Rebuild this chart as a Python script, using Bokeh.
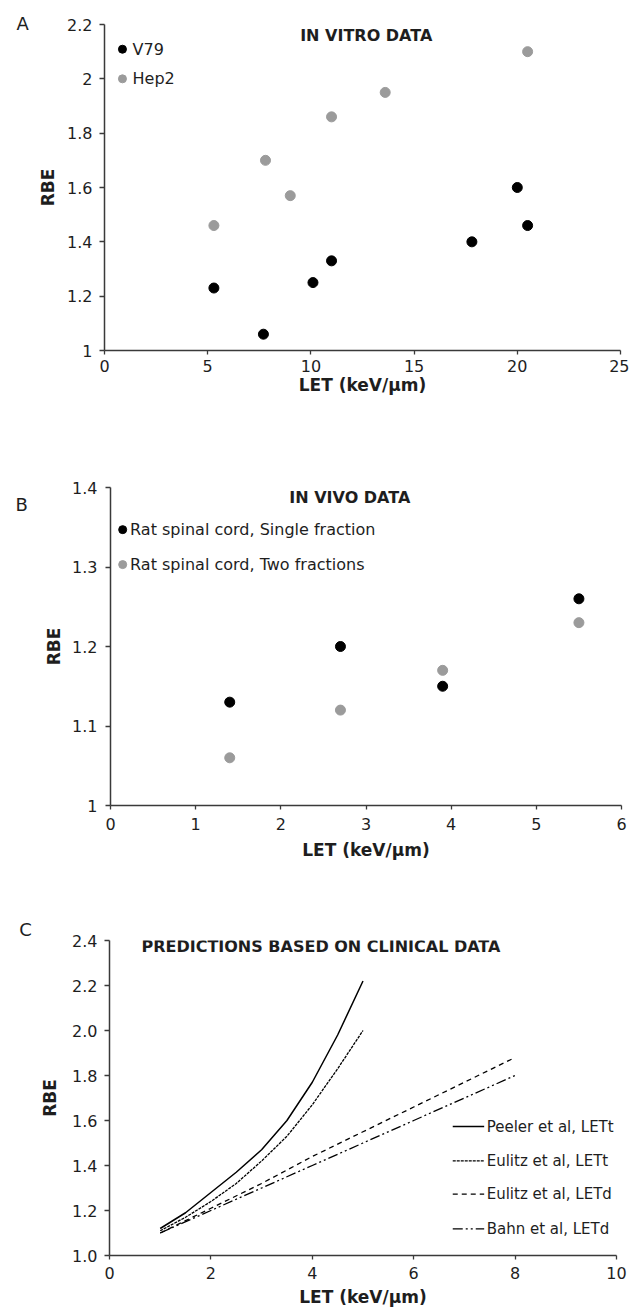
from bokeh.plotting import figure
from bokeh.models import Range1d, FixedTicker, NumeralTickFormatter, Div
from bokeh.layouts import column, row
from bokeh.core.properties import value
from bokeh.embed import file_html
from bokeh.resources import INLINE

FONT = "DejaVu Sans"

# ---------------- data ----------------
# Panel A: in vitro
v79_let = [5.3, 7.7, 10.1, 11.0, 17.8, 20.0, 20.5]
v79_rbe = [1.23, 1.06, 1.25, 1.33, 1.40, 1.60, 1.46]
hep2_let = [5.3, 7.8, 9.0, 11.0, 13.6, 20.5]
hep2_rbe = [1.46, 1.70, 1.57, 1.86, 1.95, 2.10]

# Panel B: in vivo
single_let = [1.4, 2.7, 3.9, 5.5]
single_rbe = [1.13, 1.20, 1.15, 1.26]
two_let = [1.4, 2.7, 3.9, 5.5]
two_rbe = [1.06, 1.12, 1.17, 1.23]

# Panel C: clinical predictions
peeler_let = [1.0, 1.5, 2.0, 2.5, 3.0, 3.5, 4.0, 4.5, 5.0]
peeler_rbe = [1.12, 1.19, 1.28, 1.37, 1.47, 1.60, 1.77, 1.98, 2.22]
eulitz_t_let = [1.0, 1.5, 2.0, 2.5, 3.0, 3.5, 4.0, 4.5, 5.0]
eulitz_t_rbe = [1.11, 1.17, 1.24, 1.32, 1.42, 1.53, 1.67, 1.83, 2.00]
eulitz_d_let = [1, 2, 3, 4, 5, 6, 7, 8]
eulitz_d_rbe = [1.10, 1.21, 1.32, 1.44, 1.55, 1.66, 1.77, 1.88]
bahn_let = [1, 2, 3, 4, 5, 6, 7, 8]
bahn_rbe = [1.10, 1.20, 1.30, 1.40, 1.50, 1.60, 1.70, 1.80]

a_xticks = [0, 5, 10, 15, 20, 25]
a_yticks = [1.0, 1.2, 1.4, 1.6, 1.8, 2.0, 2.2]
b_xticks = [0, 1, 2, 3, 4, 5, 6]
b_yticks = [1.0, 1.1, 1.2, 1.3, 1.4]
c_xticks = [0, 2, 4, 6, 8, 10]
c_yticks = [1.0, 1.2, 1.4, 1.6, 1.8, 2.0, 2.2, 2.4]

AXIS_COLOR = "#3a3a3a"
TEXT_COLOR = "#1e1e1e"
GRAY = "#9b9b9b"
DIV_W = 32


def make_fig(width, height, left, right, top, bottom, xr, yr, xticks, yticks,
             xfmt, yfmt, x_stand, x_als, y_stand, y_als):
    p = figure(width=width, height=height,
               x_range=Range1d(*xr), y_range=Range1d(*yr),
               output_backend="svg", toolbar_location=None,
               min_border_left=left, min_border_right=right,
               min_border_top=top, min_border_bottom=bottom)
    p.grid.visible = False
    p.outline_line_color = None
    p.background_fill_color = "white"
    p.border_fill_color = "white"
    p.xaxis.ticker = FixedTicker(ticks=xticks)
    p.yaxis.ticker = FixedTicker(ticks=yticks)
    p.xaxis.formatter = NumeralTickFormatter(format=xfmt)
    p.yaxis.formatter = NumeralTickFormatter(format=yfmt)
    for ax in (p.xaxis, p.yaxis):
        ax.axis_line_color = AXIS_COLOR
        ax.axis_line_width = 1.5
        ax.major_tick_line_color = AXIS_COLOR
        ax.major_tick_line_width = 1.3
        ax.minor_tick_line_color = None
        ax.major_label_text_font = FONT
        ax.major_label_text_font_size = "16px"
        ax.major_label_text_color = TEXT_COLOR
        ax.axis_label_text_font = FONT
        ax.axis_label_text_font_size = "17px"
        ax.axis_label_text_font_style = "bold"
        ax.axis_label_text_color = TEXT_COLOR
    p.xaxis.major_tick_out = 4
    p.xaxis.major_tick_in = 0
    p.yaxis.major_tick_out = 5
    p.yaxis.major_tick_in = 0
    p.xaxis.major_label_standoff = x_stand
    p.xaxis.axis_label_standoff = x_als
    p.yaxis.major_label_standoff = y_stand
    p.yaxis.axis_label_standoff = y_als
    p.xaxis.axis_label = "LET (keV/µm)"
    p.yaxis.axis_label = "RBE"
    return p


def add_text(p, x, y, txt, size="16px", bold=False, align="left"):
    p.text(x=[x], y=[y], text=[txt], text_font=value(FONT),
           text_font_size=size, text_font_style="bold" if bold else "normal",
           text_align=align, text_baseline="middle", text_color=TEXT_COLOR)


def letter_div(txt, pad_left, pad_top, height):
    html = ('<div style="margin:0; padding-left:%.1fpx; padding-top:%.1fpx; '
            'font-family:\'DejaVu Sans\'; font-size:18px; line-height:18px; '
            'color:%s;">%s</div>' % (pad_left, pad_top, TEXT_COLOR, txt))
    return Div(text=html, width=DIV_W, height=height, margin=0)


# ---------------- Panel A ----------------
pA = make_fig(597, 420, 72, 9, 24, 70, (0, 25), (1, 2.2), a_xticks, a_yticks,
              "0", "0.[0]", 5, 0, 7, 6)
pA.scatter(v79_let, v79_rbe, size=10, color="black")
pA.scatter(hep2_let, hep2_rbe, size=10, color=GRAY)
pA.scatter([0.87], [2.109], size=8, color="black")
pA.scatter([0.87], [2.0], size=8, color=GRAY)
add_text(pA, 1.36, 2.109, "V79")
add_text(pA, 1.36, 2.0, "Hep2")
add_text(pA, 12.68, 2.16, "IN VITRO DATA", size="16px", bold=True, align="center")

# ---------------- Panel B ----------------
pB = make_fig(597, 450, 78, 8, 67, 65, (0, 6), (1, 1.4), b_xticks, b_yticks,
              "0", "0.[0]", 8, 7, 8, 5)
pB.scatter(single_let, single_rbe, size=10, color="black")
pB.scatter(two_let, two_rbe, size=10, color=GRAY)
pB.scatter([0.143], [1.347], size=8, color="black")
pB.scatter([0.143], [1.303], size=8, color=GRAY)
add_text(pB, 0.23, 1.347, "Rat spinal cord, Single fraction")
add_text(pB, 0.23, 1.303, "Rat spinal cord, Two fractions")
add_text(pB, 2.81, 1.387, "IN VIVO DATA", size="16px", bold=True, align="center")

# ---------------- Panel C ----------------
pC = make_fig(597, 439, 77, 13, 70, 53, (0, 10), (1, 2.4), c_xticks, c_yticks,
              "0", "0.0", 7, 5, 7, 9)
styles = [
    (peeler_let, peeler_rbe, "solid", 1.5, "Peeler et al, LETt", 1.573),
    (eulitz_t_let, eulitz_t_rbe, "3 1", 1.3, "Eulitz et al, LETt", 1.421),
    (eulitz_d_let, eulitz_d_rbe, "5 4", 1.3, "Eulitz et al, LETd", 1.273),
    (bahn_let, bahn_rbe, "10 3 2 3 2 3", 1.3, "Bahn et al, LETd", 1.118),
]
for xs, ys, dash, lw, lab, ly in styles:
    pC.line(xs, ys, line_color="black", line_width=lw, line_dash=dash)
    pC.line([6.77, 7.39], [ly, ly], line_color="black", line_width=lw, line_dash=dash)
    add_text(pC, 7.44, ly, lab, size="15px")
add_text(pC, 0.63, 2.373, "PREDICTIONS BASED ON CLINICAL DATA", size="16px", bold=True)

rowA = row(letter_div("A", 16.6, 14.7, 420), pA, spacing=0)
rowB = row(letter_div("B", 15.6, 76.4, 450), pB, spacing=0)
rowC = row(letter_div("C", 19.2, 51.4, 439), pC, spacing=0)
layout = column(rowA, rowB, rowC, spacing=0)
open("out.html", "w").write(file_html(layout, INLINE))
